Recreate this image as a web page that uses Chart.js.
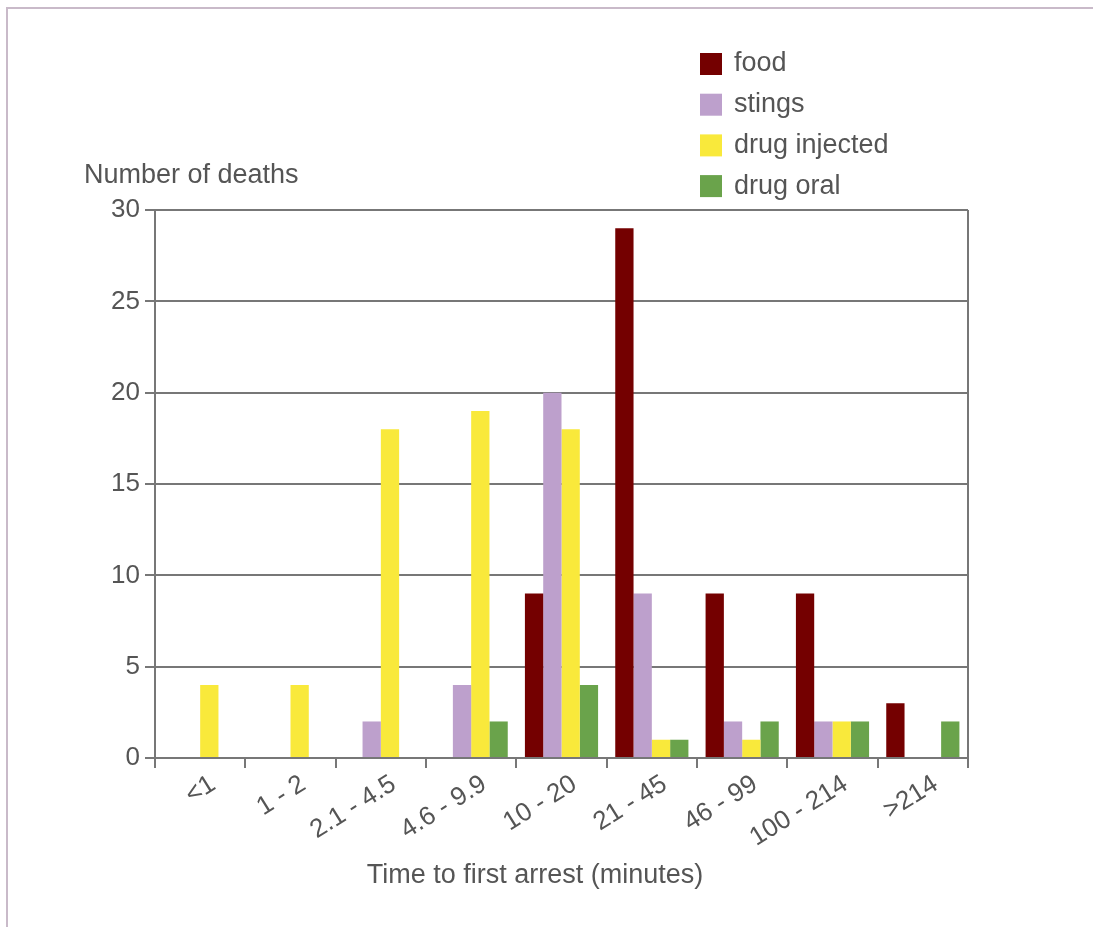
<!DOCTYPE html>
<html>
<head>
<meta charset="utf-8">
<script src="https://cdn.jsdelivr.net/npm/chart.js@4/dist/chart.umd.min.js"></script>
<style>
  html, body { margin: 0; padding: 0; background: #fff; }
  #wrap { position: relative; width: 1093px; height: 927px; }
  #frame { position: absolute; left: 6px; top: 7px; right: 0; bottom: 0;
           border-left: 2px solid #c9bac9; border-top: 2px solid #c9bac9; }
  canvas { position: absolute; left: 0; top: 0; }
</style>
</head>
<body>
<div id="wrap">
  <div id="frame"></div>
  <canvas id="chart" width="1093" height="927"></canvas>
</div>
<script>
// Sample data
const categories = ['<1', '1 - 2', '2.1 - 4.5', '4.6 - 9.9', '10 - 20', '21 - 45', '46 - 99', '100 - 214', '>214'];
const foodValues = [0, 0, 0, 0, 9, 29, 9, 9, 3];
const stingsValues = [0, 0, 2, 4, 20, 9, 2, 2, 0];
const drugInjectedValues = [4, 4, 18, 19, 18, 1, 1, 2, 0];
const drugOralValues = [0, 0, 0, 2, 4, 1, 2, 2, 2];
const yTicks = [0, 5, 10, 15, 20, 25, 30];

const FONT = '"Liberation Sans", Arial, Helvetica, sans-serif';
const TEXT = '#555';
const LINE = '#777';

// legend, axis titles, slanted x labels and plot frame drawn by hand
const extras = {
  id: 'extras',
  afterDraw(chart) {
    const c = chart.ctx;
    const a = chart.chartArea;
    const xs = chart.scales.x;
    c.save();
    c.strokeStyle = LINE;
    c.lineWidth = 2;
    c.beginPath();
    c.moveTo(a.right, a.top);
    c.lineTo(a.right, a.bottom);
    c.stroke();

    c.fillStyle = TEXT;
    c.textBaseline = 'middle';
    c.font = '26px ' + FONT;
    c.textAlign = 'right';
    chart.data.labels.forEach((lab, i) => {
      c.save();
      c.translate(xs.getPixelForTick(i) + 13, a.bottom + 24);
      c.rotate(-32 * Math.PI / 180);
      c.fillText(lab, 0, 0);
      c.restore();
    });

    c.font = '27px ' + FONT;
    c.textAlign = 'left';
    c.fillText('Number of deaths', 84, 176);
    c.textAlign = 'center';
    c.fillText('Time to first arrest (minutes)', 535, 876);

    c.textAlign = 'left';
    chart.data.datasets.forEach((ds, i) => {
      const y = 64 + i * 40.7;
      c.fillStyle = ds.backgroundColor;
      c.fillRect(700, y - 11, 22, 22);
      c.fillStyle = TEXT;
      c.fillText(ds.label, 734, y);
    });
    c.restore();
  }
};

new Chart(document.getElementById('chart').getContext('2d'), {
  type: 'bar',
  data: {
    labels: categories,
    datasets: [
      { label: 'food', data: foodValues, backgroundColor: '#740000' },
      { label: 'stings', data: stingsValues, backgroundColor: '#bda0cc' },
      { label: 'drug injected', data: drugInjectedValues, backgroundColor: '#f9e93b' },
      { label: 'drug oral', data: drugOralValues, backgroundColor: '#6aa34b' }
    ]
  },
  options: {
    responsive: false,
    animation: false,
    devicePixelRatio: 1,
    layout: { padding: { top: 210, right: 125, left: 0, bottom: 0 } },
    datasets: { bar: { categoryPercentage: 0.81, barPercentage: 1, borderWidth: 0 } },
    plugins: { legend: { display: false }, tooltip: { enabled: false } },
    scales: {
      x: {
        afterFit(scale) { scale.height = 927 - 758; },
        grid: { drawOnChartArea: false, color: LINE, lineWidth: 2, tickLength: 10, offset: true },
        border: { color: LINE, width: 2 },
        ticks: { display: false }
      },
      y: {
        min: 0,
        max: 30,
        afterFit(scale) { scale.width = 155; },
        afterBuildTicks(scale) { scale.ticks = yTicks.map(v => ({ value: v })); },
        grid: { color: LINE, lineWidth: 2, tickLength: 10 },
        border: { color: LINE, width: 2 },
        ticks: { color: TEXT, font: { family: FONT, size: 26 }, padding: 5 }
      }
    }
  },
  plugins: [extras]
});
</script>
</body>
</html>
